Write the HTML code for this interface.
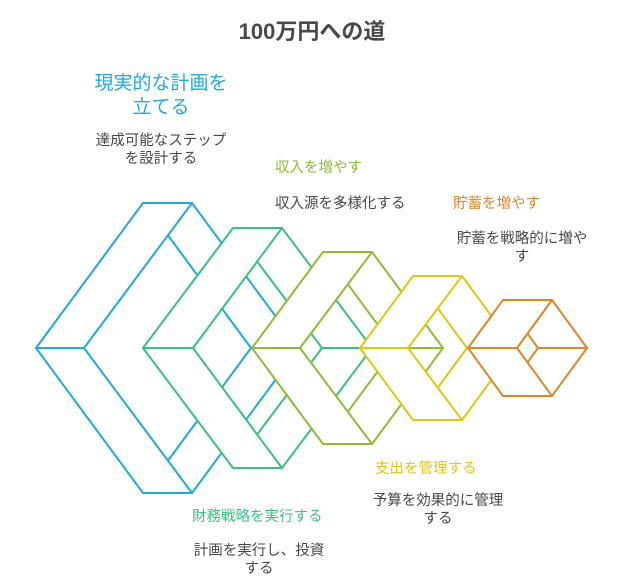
<!DOCTYPE html>
<html><head><meta charset="utf-8"><style>
html,body{margin:0;padding:0;background:#fff;}
svg{display:block;}
text{font-family:"Liberation Sans","Noto Sans CJK JP",sans-serif;}
</style></head><body>
<svg width="624" height="588" viewBox="0 0 624 588" xmlns="http://www.w3.org/2000/svg">
<g fill="none" stroke-width="2" stroke-linejoin="round" stroke-linecap="round">
<!-- blue -->
<g stroke="#22a9d9">
<polygon points="36,348 143,203 192,203 84,348" fill="#fff" stroke="none"/>
<polygon points="36,348 143,493 192,493 84,348" fill="#fff" stroke="none"/>
<polygon points="36,348 143,203 192,203 299,348 192,493 143,493"/>
<polyline points="192,203 84,348 192,493"/>
<line x1="36" y1="348" x2="84" y2="348"/><line x1="251" y1="348" x2="299" y2="348"/>
<polyline points="168,235.4 251,348 168,460.6"/>
</g>
<!-- green -->
<g stroke="#3dbf82">
<polygon points="143,348 233,228 282,228 193,348" fill="#fff" stroke="none"/>
<polygon points="143,348 233,468 282,468 193,348" fill="#fff" stroke="none"/>
<polygon points="143,348 233,228 282,228 372,348 282,468 233,468"/>
<polyline points="282,228 193,348 282,468"/>
<line x1="143" y1="348" x2="193" y2="348"/><line x1="322" y1="348" x2="372" y2="348"/>
<polyline points="257.1,261.5 322,348 257.1,434.5"/>
</g>
<!-- yellowgreen -->
<g stroke="#8fbb39">
<polygon points="252,348 323,252 372,252 300,348" fill="#fff" stroke="none"/>
<polygon points="252,348 323,444 372,444 300,348" fill="#fff" stroke="none"/>
<polygon points="252,348 323,252 372,252 443,348 372,444 323,444"/>
<polyline points="372,252 300,348 372,444"/>
<line x1="252" y1="348" x2="300" y2="348"/><line x1="395" y1="348" x2="443" y2="348"/>
<polyline points="347.8,284.2 395,348 347.8,411.8"/>
</g>
<!-- yellow -->
<g stroke="#e1c715">
<polygon points="360,348 413,276 462,276 408,348" fill="#fff" stroke="none"/>
<polygon points="360,348 413,420 462,420 408,348" fill="#fff" stroke="none"/>
<polygon points="360,348 413,276 462,276 515,348 462,420 413,420"/>
<polyline points="462,276 408,348 462,420"/>
<line x1="360" y1="348" x2="408" y2="348"/><line x1="467" y1="348" x2="515" y2="348"/>
<polyline points="437.8,308.3 467,348 437.8,387.7"/>
</g>
<!-- orange -->
<g stroke="#e0852d">
<polygon points="468,348 503,300 552,300 517,348" fill="#fff" stroke="none"/>
<polygon points="468,348 503,396 552,396 517,348" fill="#fff" stroke="none"/>
<polygon points="468,348 503,300 552,300 587,348 552,396 503,396"/>
<polyline points="552,300 517,348 552,396"/>
<line x1="468" y1="348" x2="517" y2="348"/><line x1="538" y1="348" x2="587" y2="348"/>
<polyline points="527.5,333.6 538,348 527.5,362.4"/>
</g>
</g>
<g text-anchor="middle">
<text x="312" y="39" font-size="22" font-weight="bold" fill="#484848">100万円への道</text>
<text x="161" y="89" font-size="19" fill="#22a9d9">現実的な計画を</text>
<text x="161" y="113" font-size="19" fill="#22a9d9">立てる</text>
<text x="161" y="145" font-size="14.5" fill="#484848">達成可能なステップ</text>
<text x="161" y="163" font-size="14.5" fill="#484848">を設計する</text>
<text x="522" y="243" font-size="14.5" fill="#484848">貯蓄を戦略的に増や</text>
<text x="522" y="261" font-size="14.5" fill="#484848">す</text>
<text x="438" y="505" font-size="14.5" fill="#484848">予算を効果的に管理</text>
<text x="438" y="523" font-size="14.5" fill="#484848">する</text>
<text x="259" y="555" font-size="14.5" fill="#484848">計画を実行し、投資</text>
<text x="259" y="573" font-size="14.5" fill="#484848">する</text>
</g>
<text x="275" y="172" font-size="14.5" fill="#8fbb39">収入を増やす</text>
<text x="275" y="208" font-size="14.5" fill="#484848">収入源を多様化する</text>
<text x="453" y="208" font-size="14.5" fill="#e0852d">貯蓄を増やす</text>
<text x="375" y="473" font-size="14.5" fill="#e1c715">支出を管理する</text>
<text x="192" y="521" font-size="14.5" fill="#3dbf82">財務戦略を実行する</text>
</svg>
</body></html>
